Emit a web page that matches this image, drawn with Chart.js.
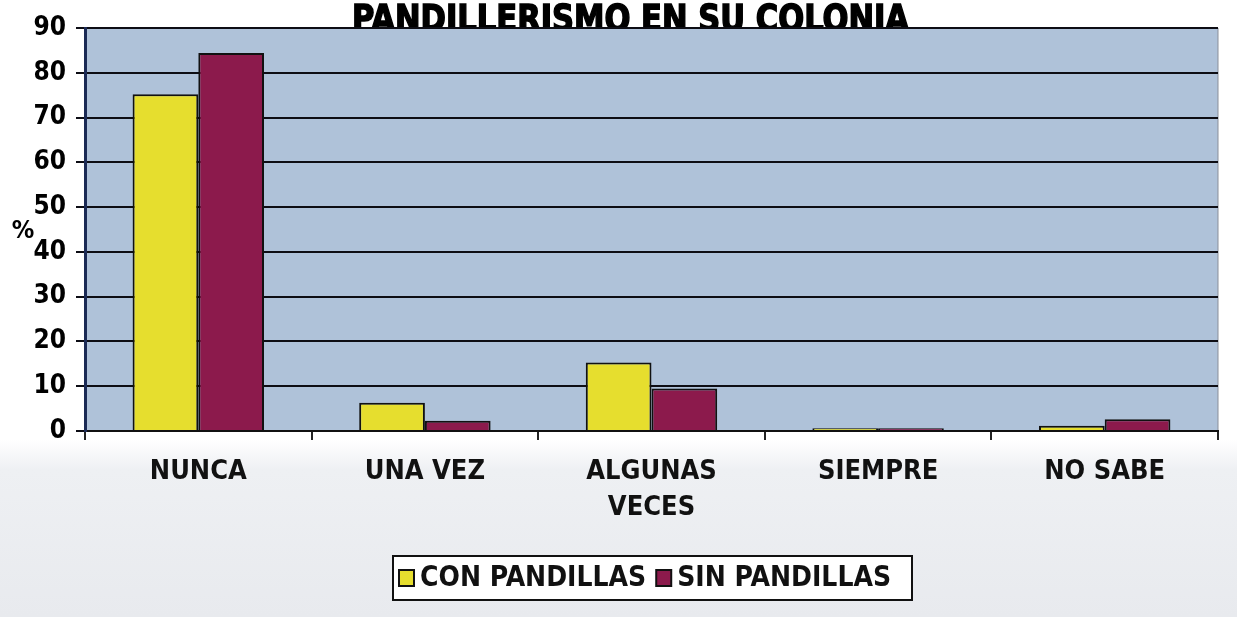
<!DOCTYPE html>
<html>
<head>
<meta charset="utf-8">
<script src="https://cdn.jsdelivr.net/npm/chart.js@4"></script>
<style>
  html, body { margin: 0; padding: 0; background: #ffffff; }
  #wrap { width: 1237px; height: 617px; position: relative;
    background: linear-gradient(to bottom, #ffffff 0px, #ffffff 440px, #eef0f3 470px, #e8eaee 617px); }
</style>
</head>
<body>
<div id="wrap"><canvas id="chart" width="1237" height="617"></canvas></div>
<script>
const categories = ["NUNCA", "UNA VEZ", ["ALGUNAS", "VECES"], "SIEMPRE", "NO SABE"];
const conPandillas = [75.2, 6.3, 15.3, 0.6, 1.2];
const sinPandillas = [84.4, 2.3, 9.5, 0.6, 2.6];
const seriesNames = ["CON PANDILLAS", "SIN PANDILLAS"];
const seriesColors = ["#e6de2e", "#8c1a4c"];

const FONT = "'DejaVu Sans Condensed', 'DejaVu Sans', sans-serif";

// title (bottom edge hidden by the plot), plot background, % label, boxed legend
const decorations = {
  id: "decorations",
  beforeDraw(chart) {
    const { ctx, chartArea: a } = chart;
    ctx.save();
    const title = "PANDILLERISMO EN SU COLONIA";
    ctx.font = "bold 37px " + FONT;
    const w = ctx.measureText(title).width;
    ctx.translate(352, 31);
    ctx.scale(557 / w, 1);
    ctx.fillStyle = "#000";
    ctx.strokeStyle = "#000";
    ctx.lineWidth = 1.5;
    ctx.textAlign = "left";
    ctx.textBaseline = "alphabetic";
    ctx.fillText(title, 0, 0);
    ctx.strokeText(title, 0, 0);
    ctx.restore();

    ctx.save();
    ctx.fillStyle = "#afc2d9";
    ctx.fillRect(a.left, a.top, a.right - a.left, a.bottom - a.top);
    ctx.strokeStyle = "#8a8f99";
    ctx.lineWidth = 1;
    ctx.beginPath();
    ctx.moveTo(a.right, a.top);
    ctx.lineTo(a.right, a.bottom);
    ctx.stroke();
    ctx.restore();
  },
  afterDraw(chart) {
    const { ctx } = chart;
    ctx.save();
    ctx.fillStyle = "#000";
    ctx.textAlign = "center";
    ctx.font = "bold 25px " + FONT;
    ctx.fillText("%", 23, 238);

    // legend
    const lx = 393, ly = 556, lw = 519, lh = 44;
    ctx.fillStyle = "#ffffff";
    ctx.fillRect(lx, ly, lw, lh);
    ctx.strokeStyle = "#111";
    ctx.lineWidth = 2;
    ctx.strokeRect(lx, ly, lw, lh);
    ctx.font = "bold 28px " + FONT;
    ctx.textAlign = "left";
    ctx.textBaseline = "middle";
    let x = lx + 6;
    chart.data.datasets.forEach((ds) => {
      ctx.fillStyle = ds.backgroundColor;
      ctx.fillRect(x, ly + 14, 15, 16);
      ctx.strokeRect(x, ly + 14, 15, 16);
      x += 21;
      ctx.fillStyle = "#111";
      ctx.fillText(ds.label, x, ly + 23);
      x += ctx.measureText(ds.label).width + 10;
    });
    ctx.restore();
  },
};

new Chart(document.getElementById("chart"), {
  type: "bar",
  data: {
    labels: categories,
    datasets: [
      {
        label: seriesNames[0],
        data: conPandillas,
        backgroundColor: seriesColors[0],
        borderColor: "#111",
        borderWidth: 2,
      },
      {
        label: seriesNames[1],
        data: sinPandillas,
        backgroundColor: seriesColors[1],
        borderColor: "#111",
        borderWidth: 2,
      },
    ],
  },
  options: {
    responsive: false,
    animation: false,
    layout: { padding: { top: 28, right: 19, left: 0, bottom: 0 } },
    datasets: {
      bar: { categoryPercentage: 0.58, barPercentage: 1.0 },
    },
    plugins: {
      legend: { display: false },
      title: { display: false },
      tooltip: { enabled: false },
    },
    scales: {
      x: {
        afterFit(scale) { scale.height = 186; },
        grid: {
          drawOnChartArea: false,
          drawTicks: true,
          tickLength: 9,
          color: "#222",
          lineWidth: 2,
        },
        border: { color: "#111", width: 2 },
        ticks: {
          color: "#111",
          padding: 14,
          font: { family: FONT, size: 27, weight: "bold", lineHeight: 1.33 },
        },
      },
      y: {
        min: 0,
        max: 90,
        afterFit(scale) { scale.width = 85; },
        ticks: {
          stepSize: 10,
          color: "#000",
          padding: 10,
          font: { family: FONT, size: 26, weight: "bold" },
        },
        grid: {
          color: "#0d0d14",
          lineWidth: 2,
          tickLength: 9,
        },
        border: { color: "#1b2a55", width: 3 },
      },
    },
  },
  plugins: [decorations],
});
</script>
</body>
</html>
